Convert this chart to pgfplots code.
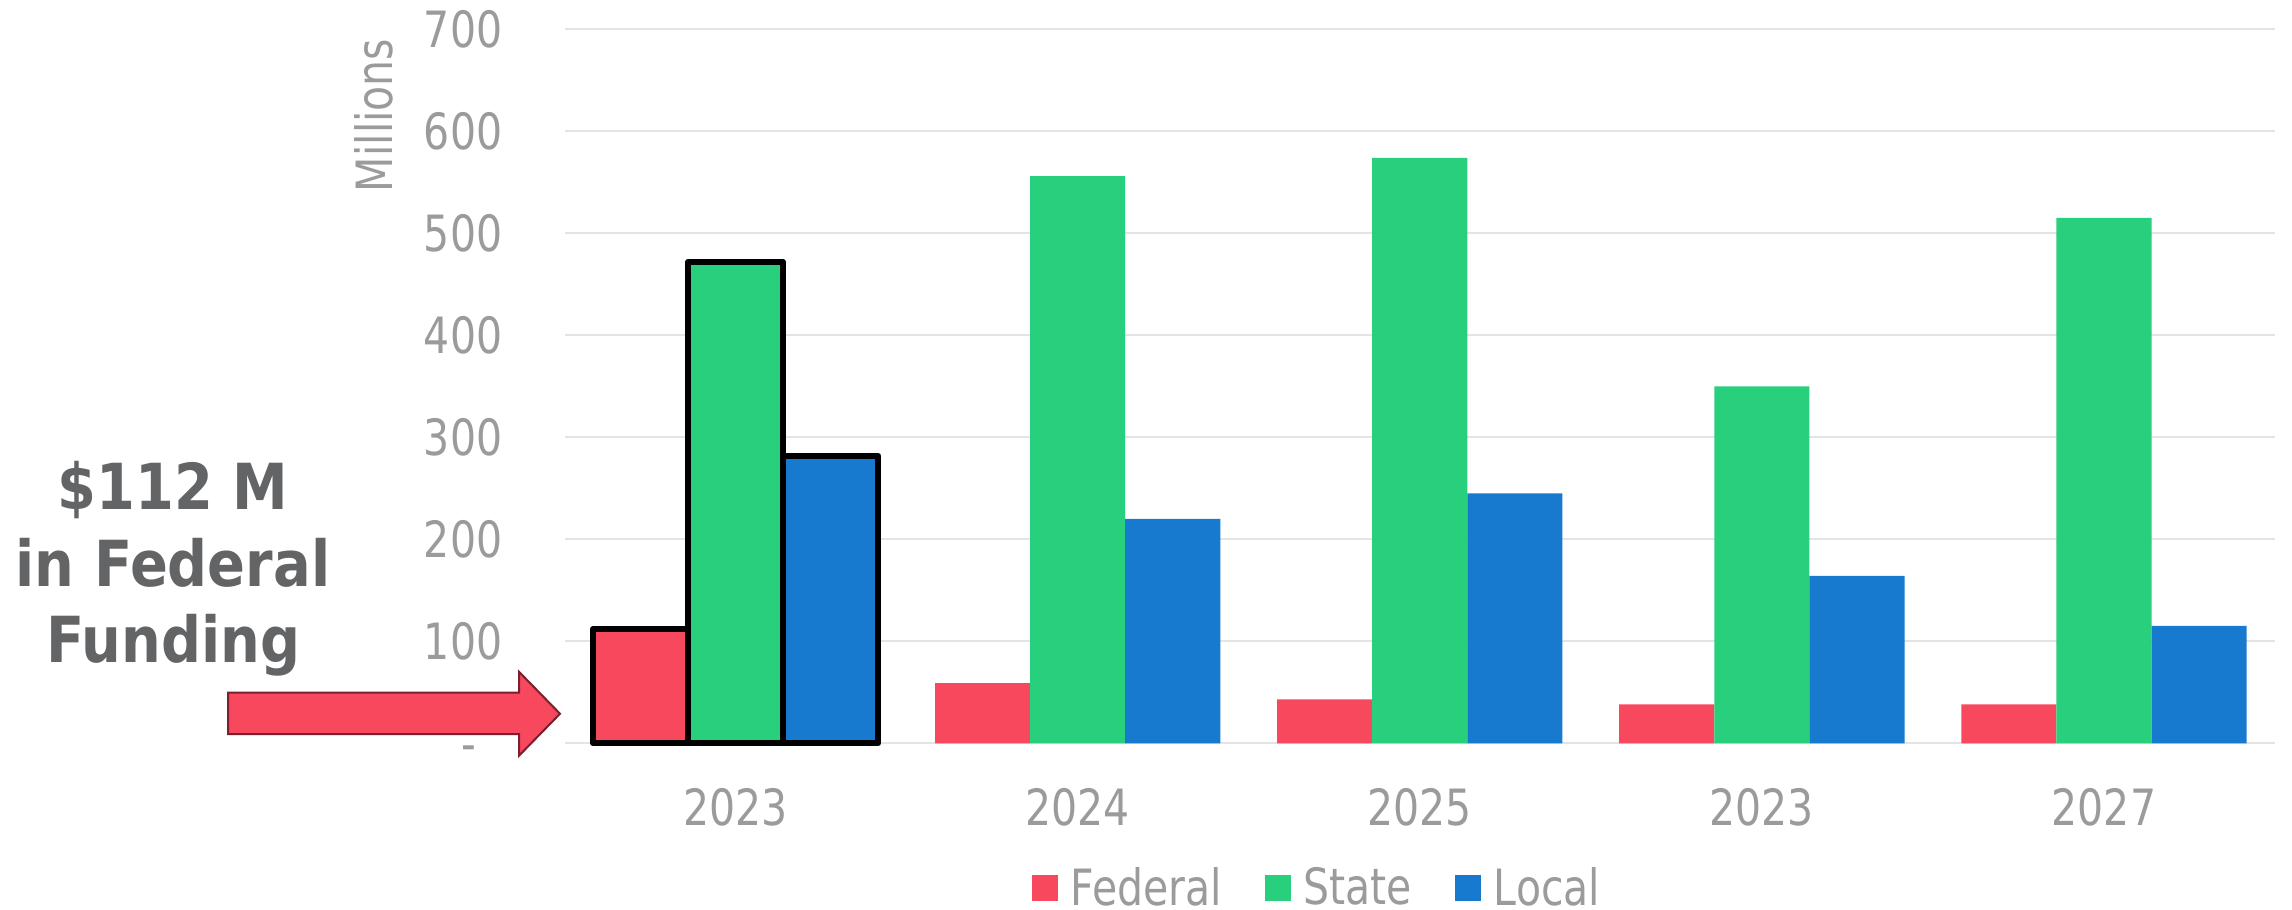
\documentclass[border=0pt]{standalone}
\usepackage{pgfplots}
\pgfplotsset{compat=1.18}
\usepackage{pgfplotstable}
\usepackage{fontspec}
\setmainfont{DejaVu Sans}[FakeStretch=0.82]
\newfontfamily\annofont{DejaVu Sans}[FakeStretch=0.88]
\definecolor{fedred}{HTML}{F7485E}
\definecolor{stgreen}{HTML}{28D07E}
\definecolor{locblue}{HTML}{177ACE}
\definecolor{tickgray}{HTML}{9B9B9B}
\definecolor{gridgray}{HTML}{E4E4E4}
\definecolor{annogray}{HTML}{636466}
\definecolor{arrowedge}{HTML}{7B1E2D}

\pgfplotstableread{
x Federal State Local
0 112 472 282
1 59 556 220
2 43 574 245
3 38 350 164
4 38 515 115
}\datatable

\pgfplotsset{/pgfplots/ybar legend/.style={/pgfplots/legend image code/.code={\fill[##1] (0pt,-5.2pt) rectangle (10.4pt,5.2pt);}}}

\begin{document}
\begin{tikzpicture}
\begin{axis}[
  at={(0,0)}, anchor=south west,
  scale only axis,
  width=684.2pt, height=285.6pt,
  xmin=-0.5, xmax=4.5, ymin=0, ymax=700,
  ybar, bar width=0.278,
  axis line style={draw=none},
  major tick length=0pt,
  xtick={0,1,2,3,4},
  xticklabels={2023,2024,2025,2023,2027},
  ytick={0,100,...,700},
  yticklabels={\vphantom{0}-\hphantom{0},100,200,300,400,500,600,700},
  ymajorgrids,
  major grid style={gridgray, line width=0.8pt},
  tick label style={font=\fontsize{20}{24}\selectfont, text=tickgray, inner sep=0pt},
  xticklabel style={anchor=north, yshift=-18pt},
  yticklabel style={anchor=east, xshift=-24.7pt},
  clip=false,
  legend columns=3,
  legend style={at={(0.2733,-0.2027)}, anchor=west, draw=none, fill=none,
    inner sep=0pt, outer sep=0pt, font=\fontsize{20}{24}\selectfont, text=tickgray,
    nodes={inner sep=0pt},
    /tikz/every odd column/.append style={column sep=5.1pt},
    /tikz/every even column/.append style={column sep=17.2pt}},
]
\addplot[fill=fedred, draw=none, bar shift=-0.278] table[x=x,y=Federal]{\datatable};
\addlegendentry{Federal}
\addplot[fill=stgreen, draw=none, bar shift=0] table[x=x,y=State]{\datatable};
\addlegendentry{State}
\addplot[fill=locblue, draw=none, bar shift=0.278] table[x=x,y=Local]{\datatable};
\addlegendentry{Local}
\addplot[fill=fedred, draw=black, line width=2.4pt, line join=round, bar shift=-0.278, forget plot, skip coords between index={1}{5}] table[x=x,y=Federal]{\datatable};
\addplot[fill=stgreen, draw=black, line width=2.4pt, line join=round, bar shift=0, forget plot, skip coords between index={1}{5}] table[x=x,y=State]{\datatable};
\addplot[fill=locblue, draw=black, line width=2.4pt, line join=round, bar shift=0.278, forget plot, skip coords between index={1}{5}] table[x=x,y=Local]{\datatable};
\end{axis}
% y axis title
\node[rotate=90, anchor=center, text=tickgray, inner sep=0pt, font=\fontsize{20}{24}\selectfont] at (-76.2pt,251.1pt) {Millions};
% arrow annotation
\draw[fill=fedred, draw=arrowedge, line width=0.8pt, line join=miter]
  (-134.5pt,3.6pt) -- (-18.2pt,3.6pt) -- (-18.2pt,-5pt) -- (-1.8pt,11.8pt)
  -- (-18.2pt,28.6pt) -- (-18.2pt,20.2pt) -- (-134.5pt,20.2pt) -- cycle;
\node[anchor=base, text=annogray, inner sep=0pt, font=\annofont\bfseries\fontsize{25.4}{30}\selectfont] at (-156.6pt,93.3pt) {\$112 M};
\node[anchor=base, text=annogray, inner sep=0pt, font=\annofont\bfseries\fontsize{25.4}{30}\selectfont] at (-156.6pt,62.6pt) {in Federal};
\node[anchor=base, text=annogray, inner sep=0pt, font=\annofont\bfseries\fontsize{25.4}{30}\selectfont] at (-156.6pt,32.3pt) {Funding};
\pgfresetboundingbox
\path[use as bounding box] (-225.8pt,-66.3pt) rectangle (691pt,297.3pt);
\end{tikzpicture}
\end{document}
